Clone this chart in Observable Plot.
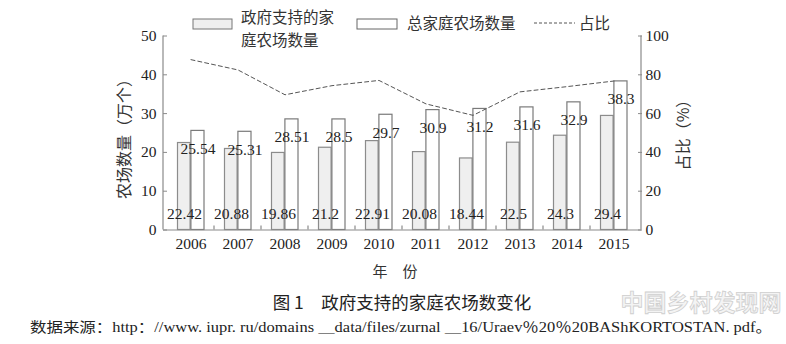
<!DOCTYPE html>
<html>
<head>
<meta charset="utf-8">
<script src="https://cdn.jsdelivr.net/npm/d3@7"></script>
<script src="https://cdn.jsdelivr.net/npm/@observablehq/plot@0.6"></script>
<style>
  html, body { margin: 0; padding: 0; background: #fff; }
  svg { display: block; }
</style>
</head>
<body>
<div id="chart"></div>
<script>
const years = ["2006","2007","2008","2009","2010","2011","2012","2013","2014","2015"];
const govFarms = [22.42, 20.88, 19.86, 21.2, 22.91, 20.08, 18.44, 22.5, 24.3, 29.4];
const govLabels = ["22.42","20.88","19.86","21.2","22.91","20.08","18.44","22.5","24.3","29.4"];
const totalFarms = [25.54, 25.31, 28.51, 28.5, 29.7, 30.9, 31.2, 31.6, 32.9, 38.3];
const totalLabels = ["25.54","25.31","28.51","28.5","29.7","30.9","31.2","31.6","32.9","38.3"];
const sharePct = [87.8, 82.5, 69.7, 74.4, 77.1, 65.0, 59.1, 71.2, 73.9, 76.8];
const leftTicks = [0, 10, 20, 30, 40, 50];
const rightTicks = [0, 20, 40, 60, 80, 100];

const rows = years.map((y, i) => ({
  year: y, gov: govFarms[i], govLabel: govLabels[i],
  total: totalFarms[i], totalLabel: totalLabels[i], pct: sharePct[i]
}));

const serif = "'Liberation Serif', 'Noto Sans CJK SC', serif";
const cjk = "'Noto Sans CJK SC', sans-serif";
const axisColor = "#8a8a8a";

const chart = Plot.plot({
  width: 786,
  height: 344,
  marginLeft: 163,
  marginRight: 145,
  marginTop: 35.5,
  marginBottom: 114.5,
  style: { fontFamily: serif, background: "#fff", color: "#222" },
  x: { type: "band", domain: years, padding: 0, axis: null },
  y: { domain: [0, 50], axis: null },
  marks: [
    Plot.barY(rows, { x: "year", y: "gov", fill: "#efefef", stroke: "#8c8c8c", strokeWidth: 1.2, insetLeft: 10.5, insetRight: 23.9 }),
    Plot.barY(rows, { x: "year", y: "total", fill: "#fff", stroke: "#7a7a7a", strokeWidth: 1.2, insetLeft: 23.9, insetRight: 10 }),
    Plot.lineY(rows, { x: "year", y: d => d.pct / 2, stroke: "#555", strokeWidth: 1, strokeDasharray: "4,3" }),
    Plot.text(rows, { x: "year", y: 0, text: "govLabel", dx: -6.5, dy: -16, fontSize: 15.5, fill: "#222" }),
    Plot.text(rows, { x: "year", y: "total", text: "totalLabel", dx: 7, dy: 18, fontSize: 15.5, fill: "#222" }),
    Plot.ruleY([0], { stroke: axisColor, strokeWidth: 1.2 }),
    Plot.axisX({ tickSize: 0, tickPadding: 8, fontSize: 15.5, fill: "#222", label: null }),
    Plot.axisY({ anchor: "left", ticks: leftTicks, tickSize: -4, tickPadding: 11, fontSize: 15.5, stroke: axisColor, fill: "#222", label: null }),
    Plot.axisY({ anchor: "right", ticks: rightTicks.map(v => v / 2), tickFormat: d => String(d * 2), tickSize: -4, tickPadding: 8, fontSize: 15.5, stroke: axisColor, fill: "#222", label: null })
  ]
});

document.getElementById("chart").appendChild(chart);

const svg = d3.select(chart);
const xs = chart.scale("x");
const ys = chart.scale("y");
const [x0, x1] = xs.range;
const yBottom = ys.apply(0), yTop = ys.apply(50);

// axis lines
const g = svg.append("g").attr("stroke", axisColor).attr("stroke-width", 1.2);
g.append("line").attr("x1", x0).attr("x2", x0).attr("y1", yTop).attr("y2", yBottom);
g.append("line").attr("x1", x1).attr("x2", x1).attr("y1", yTop).attr("y2", yBottom);
years.slice(1).forEach(y => {
  const xb = xs.apply(y);
  g.append("line").attr("x1", xb).attr("x2", xb).attr("y1", yBottom).attr("y2", yBottom - 4);
});

// axis titles
svg.append("text").attr("transform", `translate(123,135) rotate(-90)`)
  .attr("text-anchor", "middle").attr("dominant-baseline", "central")
  .attr("font-family", cjk).attr("font-size", 16).attr("fill", "#333").text("农场数量（万个）");
svg.append("text").attr("transform", `translate(682,131) rotate(-90)`)
  .attr("text-anchor", "middle").attr("dominant-baseline", "central")
  .attr("font-family", cjk).attr("font-size", 16).attr("fill", "#333").text("占比（%）");
svg.append("text").attr("x", 395).attr("y", 270)
  .attr("text-anchor", "middle").attr("dominant-baseline", "central")
  .attr("font-family", cjk).attr("font-size", 15).attr("fill", "#333").text("年　份");

// legend
const lg = svg.append("g").attr("font-family", cjk).attr("font-size", 15.5).attr("fill", "#333").attr("text-anchor", "start");
lg.append("rect").attr("x", 193).attr("y", 19).attr("width", 39).attr("height", 10)
  .attr("fill", "#efefef").attr("stroke", "#777").attr("stroke-width", 1);
lg.append("text").attr("x", 241).attr("y", 16).attr("text-anchor", "start").attr("dominant-baseline", "central").text("政府支持的家");
lg.append("text").attr("x", 241).attr("y", 38.5).attr("text-anchor", "start").attr("dominant-baseline", "central").text("庭农场数量");
lg.append("rect").attr("x", 357).attr("y", 19).attr("width", 40).attr("height", 10)
  .attr("fill", "#fff").attr("stroke", "#666").attr("stroke-width", 1);
lg.append("text").attr("x", 407).attr("y", 22).attr("text-anchor", "start").attr("dominant-baseline", "central").text("总家庭农场数量");
lg.append("line").attr("x1", 534).attr("x2", 575).attr("y1", 23).attr("y2", 23)
  .attr("stroke", "#555").attr("stroke-dasharray", "3,2");
lg.append("text").attr("x", 579).attr("y", 22).attr("text-anchor", "start").attr("dominant-baseline", "central").text("占比");

// watermark
svg.append("text").attr("x", 701).attr("y", 301).attr("text-anchor", "middle")
  .attr("dominant-baseline", "central").attr("font-family", cjk).attr("font-weight", "bold")
  .attr("font-size", 23).attr("fill", "#f4f4f4").attr("stroke", "#cfcfcf").attr("stroke-width", 0.8)
  .text("中国乡村发现网");

// caption and source
svg.append("text").attr("x", 402).attr("y", 301).attr("text-anchor", "middle")
  .attr("dominant-baseline", "central").attr("font-family", cjk).attr("font-size", 17.5).attr("fill", "#222")
  .text("图 1　政府支持的家庭农场数变化");
svg.append("text").attr("x", 30).attr("y", 327).attr("text-anchor", "start")
  .attr("dominant-baseline", "central").attr("font-family", serif).attr("font-size", 14).attr("fill", "#222")
  .attr("textLength", 742).attr("lengthAdjust", "spacingAndGlyphs")
  .text("数据来源：http：//www. iupr. ru/domains ＿data/files/zurnal ＿16/Uraev％20％20BAShKORTOSTAN. pdf。");
</script>
</body>
</html>
